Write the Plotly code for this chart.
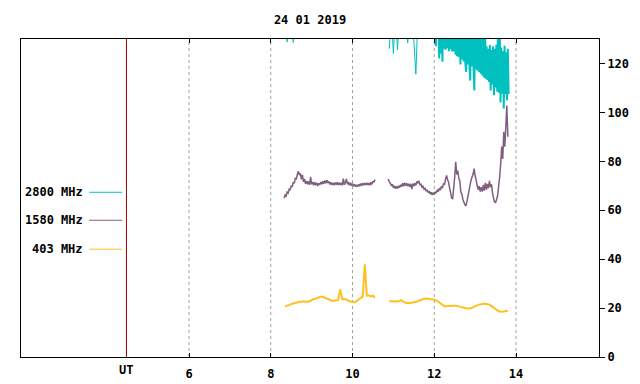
import numpy as np
import plotly.graph_objects as go

TITLE = "24 01 2019"
X_TICKS = [6, 8, 10, 12, 14]
Y_TICKS = [0, 20, 40, 60, 80, 100, 120]
UT_POS = 4.47
X_RANGE = [1.89, 16.03]
Y_RANGE = [0, 130]

# ---- 2800 MHz (clipped above 130) ----
s2800_a_start, s2800_a_step = 8.35, 0.05
s2800_a = [140, 128.8, 140, 140, 128.6, 140, 140, 140, 140, 140,
           140, 140, 140, 140, 140, 140, 140, 140, 140, 140,
           140, 140, 140, 140, 140, 140, 140, 140, 140, 140,
           140, 140, 140, 140, 140, 140, 140, 140, 140, 140,
           140, 140, 140, 140, 140]
s2800_b_start, s2800_b_step = 10.90, 0.05
s2800_b = [126.0, 140, 124.0, 140, 125.6, 140, 140, 140, 140, 128.4,
           140, 140, 129.2, 115.6, 140, 140, 140, 140, 140, 140,
           140, 140, 140]
s2800_c_start, s2800_c_step = 12.00, 0.02
s2800_c = [140, 140, 127, 140, 140, 140, 122, 140, 124, 140, 120.7,
           140, 126, 140, 125.6, 140, 126.2, 140, 125, 140, 125.8,
           140, 124.8, 140, 125.0, 140, 123.6, 140, 123.0, 140, 122.6,
           140, 119.6, 140, 121.6, 140, 120.8, 140, 120.2, 116.5, 140,
           119.6, 140, 119.0, 113.0, 140, 118.8, 140, 118.4, 109.0, 140,
           117.6, 140, 117.0, 140, 116.4, 140, 115.8, 140, 115.0, 140,
           114.2, 140, 113.8, 127, 113.2, 126, 112.4, 127.5, 109.0, 125.5,
           111.4, 127, 107.0, 126, 110.2, 127.6, 108.4, 140, 108.0, 140,
           104.0, 126.5, 107.6, 125, 101.6, 127.2, 107.4, 124.6, 105.0, 126.0,
           107.5]

# ---- 1580 MHz ----
s1580_a_start, s1580_a_step = 8.325, 0.025
s1580_a = [65.0, 66.2, 65.8, 67.4, 67.0, 68.6, 68.2, 70.0, 69.6, 71.4,
           71.0, 73.0, 72.8, 74.6, 76.0, 74.4, 75.0, 72.6, 74.4, 71.6,
           72.8, 70.8, 72.0, 70.6, 71.8, 70.4, 73.6, 70.6, 71.6, 70.2,
           71.4, 70.2, 71.2, 69.9, 71.0, 70.4, 71.5, 70.6, 71.8, 70.8,
           72.2, 71.0, 72.3, 71.1, 71.8, 70.5, 71.4, 70.3, 71.2, 70.2,
           71.3, 70.4, 71.4, 70.3, 71.3, 70.3, 71.2, 70.2, 72.9, 70.4,
           71.4, 72.8, 70.6, 71.5, 70.2, 71.2, 70.0, 70.9, 69.8, 70.6,
           69.6, 70.4, 69.6, 70.6, 69.8, 70.9, 70.0, 71.1, 70.2, 71.1,
           70.3, 71.2, 70.3, 71.1, 70.2, 71.4, 70.6, 71.9, 71.4, 72.6]
s1580_b_start, s1580_b_step = 10.875, 0.025
s1580_b = [72.8, 71.6, 71.0, 70.0, 70.6, 69.2, 70.0, 68.8, 69.8, 68.9,
           70.0, 69.2, 70.4, 69.6, 71.0, 69.8, 71.2, 70.0, 71.0, 69.8,
           70.8, 69.6, 70.8, 68.6, 70.9, 69.8, 71.0, 70.2, 71.8, 71.0,
           72.0, 70.4, 70.6, 69.4, 69.8, 68.6, 69.0, 67.8, 68.4, 67.2,
           67.8, 66.6, 67.4, 66.2, 67.2, 66.4, 67.6, 67.0, 68.4, 67.6,
           69.0, 68.2, 69.8, 69.0, 71.0, 70.4, 72.6, 74.2, 72.6, 71.4,
           69.0, 67.2, 65.0, 64.8, 69.0, 73.6, 79.8, 74.6, 76.2, 73.2,
           72.0, 67.4, 66.6, 64.4, 63.4, 62.2, 61.8, 63.6, 65.8, 68.0,
           70.2, 72.4, 73.6, 74.8, 77.0, 74.0, 72.4, 70.0, 68.4, 69.8,
           67.6, 69.4, 67.6, 70.4, 68.0, 71.2, 68.4, 70.8, 69.0, 72.0,
           69.4, 70.6, 67.0, 65.0, 63.4, 63.2, 64.4, 66.0, 69.8, 73.6,
           79.0, 86.0, 81.0, 92.0, 86.0, 94.0, 102.8, 90.0]

# ---- 403 MHz ----
s403_a_start, s403_a_step = 8.35, 0.05
s403_a = [20.7, 21.0, 21.2, 21.6, 21.9, 22.1, 22.3, 22.6, 22.6, 22.8,
          22.7, 22.6, 22.8, 23.2, 23.7, 23.8, 24.2, 24.6, 24.6, 24.4,
          24.0, 23.7, 23.3, 23.0, 23.0, 23.2, 23.3, 27.6, 23.6, 23.7,
          23.5, 23.0, 22.7, 22.5, 22.4, 22.8, 23.5, 24.2, 24.7, 37.9,
          25.0, 25.2, 24.8, 25.1, 24.2]
s403_b_start, s403_b_step = 10.90, 0.05
s403_b = [22.8, 22.8, 22.7, 22.8, 22.7, 22.9, 23.2, 22.5, 22.2, 22.1,
          22.1, 22.2, 22.4, 22.6, 22.8, 23.2, 23.5, 23.8, 23.9, 23.8,
          23.6, 23.5, 23.4, 23.1, 22.6, 22.0, 21.3, 20.7, 20.8, 20.9,
          20.9, 21.0, 21.0, 20.9, 20.7, 20.5, 20.2, 20.0, 19.8, 19.8,
          19.9, 20.3, 20.8, 21.1, 21.4, 21.6, 21.8, 21.8, 21.6, 21.4,
          20.8, 20.2, 19.6, 19.0, 18.6, 18.5, 18.6, 18.8, 18.8]

C2800 = "#00c0c0"
C1580 = "#7f5f80"
C403 = "#ffc020"
FONT = "DejaVu Sans Mono"


def segs(parts):
    xs, ys = [], []
    for start, step, vals in parts:
        t = start + step * np.arange(len(vals))
        xs.extend(t.tolist()); ys.extend(vals)
        xs.append(None); ys.append(None)
    return xs, ys


fig = go.Figure()
for name, color, width, parts in [
    ("2800 MHz", C2800, 1, [(s2800_a_start, s2800_a_step, s2800_a),
                            (s2800_b_start, s2800_b_step, s2800_b)]),
    ("2800 MHz", C2800, 2, [(s2800_c_start, s2800_c_step, s2800_c)]),
    ("1580 MHz", C1580, 1.5, [(s1580_a_start, s1580_a_step, s1580_a),
                              (s1580_b_start, s1580_b_step, s1580_b)]),
    ("403 MHz", C403, 2, [(s403_a_start, s403_a_step, s403_a),
                          (s403_b_start, s403_b_step, s403_b)]),
]:
    x, y = segs(parts)
    fig.add_trace(go.Scatter(x=x, y=y, mode="lines", name=name,
                             line=dict(color=color, width=width, simplify=False),
                             connectgaps=False, showlegend=False))

shapes = []
for xv in X_TICKS:
    shapes.append(dict(type="line", xref="x", yref="paper", x0=xv, x1=xv, y0=0, y1=1,
                       line=dict(color="#a0a0a0", width=1, dash="dot"), layer="below"))
shapes.append(dict(type="line", xref="x", yref="paper", x0=UT_POS, x1=UT_POS, y0=0, y1=1,
                   line=dict(color="#990000", width=1)))

legend_items = [("2800 MHz", C2800, 0.518), ("1580 MHz", C1580, 0.430), ("403 MHz", C403, 0.339)]
annotations = []
for label, color, yp in legend_items:
    annotations.append(dict(text=label, xref="paper", yref="paper", x=0.111, y=yp,
                            xanchor="right", yanchor="middle", showarrow=False,
                            font=dict(family=FONT, size=12, color="black", weight="bold")))
    shapes.append(dict(type="line", xref="paper", yref="paper", x0=0.118, x1=0.175,
                       y0=yp, y1=yp, line=dict(color=color, width=1)))
annotations.append(dict(text="UT", xref="x", yref="paper", x=UT_POS, y=0, yshift=-13,
                        xanchor="center", yanchor="middle", showarrow=False,
                        font=dict(family=FONT, size=12, color="black", weight="bold")))

W, H = 633, 377
fig.update_layout(
    width=W, height=H,
    margin=dict(l=13, r=42, t=31, b=28, autoexpand=False),
    paper_bgcolor="white", plot_bgcolor="white",
    title=dict(text=TITLE, x=0.5, xref="paper", y=1 - 12 / H, yref="container",
               xanchor="center", yanchor="middle",
               font=dict(family=FONT, size=12, color="black", weight="bold")),
    shapes=shapes, annotations=annotations,
    xaxis=dict(range=X_RANGE, tickvals=X_TICKS, ticktext=[str(v) for v in X_TICKS],
               showgrid=False, zeroline=False, showline=True, linecolor="black", linewidth=1,
               mirror="ticks", ticks="inside", ticklen=4, tickcolor="black",
               ticklabelstandoff=6, automargin=False,
               tickfont=dict(family=FONT, size=12, color="black", weight="bold")),
    yaxis=dict(range=Y_RANGE, tickvals=Y_TICKS, side="right",
               showgrid=False, zeroline=False, showline=True, linecolor="black", linewidth=1,
               mirror=True, ticks="outside", ticklen=5, tickcolor="black", automargin=False,
               tickfont=dict(family=FONT, size=12, color="black", weight="bold")),
)

fig.write_html("out.html")
